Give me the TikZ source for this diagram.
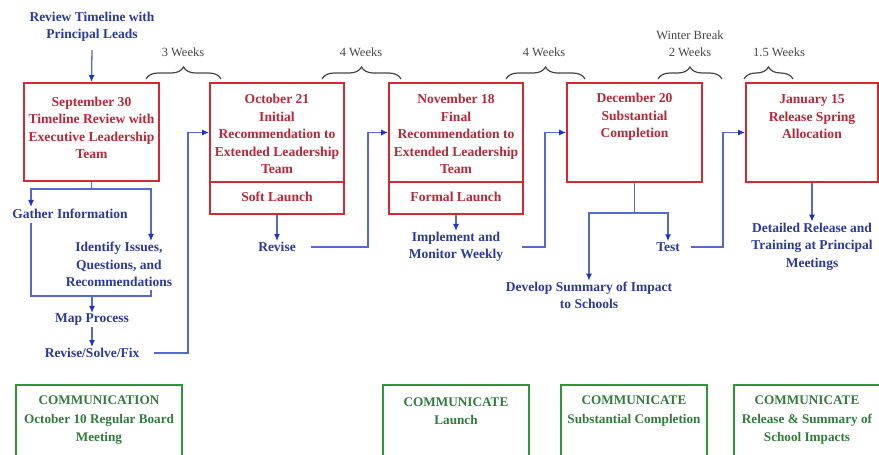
\documentclass[tikz,border=0pt]{standalone}
\usepackage{fontspec}
\setmainfont{Liberation Serif}
\usetikzlibrary{arrows.meta,decorations.pathreplacing}
\definecolor{boxred}{RGB}{218,38,48}
\definecolor{txtred}{RGB}{185,40,55}
\definecolor{txtblue}{RGB}{42,58,160}
\definecolor{lineblue}{RGB}{85,105,210}
\definecolor{arrblue}{RGB}{30,50,200}
\definecolor{boxgreen}{RGB}{45,150,55}
\definecolor{txtgreen}{RGB}{48,125,60}
\definecolor{txtgrey}{RGB}{70,70,70}
\tikzset{
  redbox/.style={draw=boxred, line width=1.8pt, inner sep=0pt, minimum width=#1},
  redbox/.default=134pt,
  greenbox/.style={draw=boxgreen, line width=1.8pt, inner sep=0pt},
  redtxt/.style={text=txtred, font=\bfseries\fontsize{13.6}{17.5}\selectfont, align=center, inner sep=0pt},
  bluetxt/.style={text=txtblue, font=\bfseries\fontsize{13.5}{17.5}\selectfont, align=center, inner sep=1pt},
  greentxt/.style={text=txtgreen, font=\bfseries\fontsize{13.2}{18.5}\selectfont, align=center, inner sep=0pt},
  greytxt/.style={text=txtgrey, font=\fontsize{12.5}{17}\selectfont, align=center, inner sep=0pt},
  plainline/.style={draw=lineblue, line width=1.3pt},
  conn/.style={plainline, -{Latex[length=7pt,width=6pt,color=arrblue]}},
  bracket/.style={draw=txtgrey, line width=1.2pt, decorate, decoration={brace, amplitude=12pt}},
}
\begin{document}
\begin{tikzpicture}[x=1pt, y=-1pt]
\useasboundingbox[fill=white] (0,0) rectangle (879,455);

% braces and durations
\draw[bracket] (146,79) -- (221,79);
\draw[bracket] (322,79) -- (401,79);
\draw[bracket] (506,79) -- (585,79);
\draw[bracket] (658,79) -- (722,79);
\draw[bracket] (744,79) -- (793,79);
\node[greytxt] (w1) at (183,52) {3 Weeks};
\node[greytxt] (w2) at (361,52) {4 Weeks};
\node[greytxt] (w3) at (544,52) {4 Weeks};
\node[greytxt] (w4) at (690,43.5) {Winter Break\\2 Weeks};
\node[greytxt] (w5) at (779,52) {1.5 Weeks};

% red milestone boxes
\node[redbox=135pt, minimum height=98pt] (b1) at (91.5,132) {};
\node[redbox, minimum height=99pt] (b2) at (277,132.5) {};
\node[redbox, minimum height=32pt] (b2s) at (277,198) {};
\node[redbox, minimum height=99pt] (b3) at (456,132.5) {};
\node[redbox, minimum height=32pt] (b3s) at (456,198) {};
\node[redbox=135pt, minimum height=99pt] (b4) at (634.5,132.5) {};
\node[redbox=132pt, minimum height=99pt] (b5) at (812,132.5) {};

\node[redtxt] (t1) at (91.5,128) {September 30\\Timeline Review with\\Executive Leadership\\Team};
\node[redtxt] (t2) at (277,134) {October 21\\Initial\\Recommendation to\\Extended Leadership\\Team};
\node[redtxt] (t2s) at (277,197) {Soft Launch};
\node[redtxt] (t3) at (456,134) {November 18\\Final\\Recommendation to\\Extended Leadership\\Team};
\node[redtxt] (t3s) at (456,197) {Formal Launch};
\node[redtxt] (t4) at (634.5,117) {December 20\\Substantial\\Completion};
\node[redtxt] (t5) at (812,117) {January 15\\Release Spring\\Allocation};

% blue steps
\node[bluetxt] (rvl) at (92,27) {Review Timeline with\\Principal Leads};
\node[bluetxt] (gat) at (70,214) {Gather Information};
\node[bluetxt] (iden) at (119,264.5) {Identify Issues,\\Questions, and\\Recommendations};
\node[bluetxt] (map) at (92,320) {Map Process};
\node[bluetxt] (rsf) at (92,353) {Revise/Solve/Fix};
\node[bluetxt] (rev) at (277,247) {Revise};
\node[bluetxt] (imp) at (456,247) {Implement and\\Monitor Weekly};
\node[bluetxt] (test) at (668,247) {Test};
\node[bluetxt] (dev) at (589,295.5) {Develop Summary of Impact\\to Schools};
\node[bluetxt] (det) at (812,246.5) {Detailed Release and\\Training at Principal\\Meetings};

% connectors
\draw[conn] (rvl.south) ++(0,7) -- (b1.north);

\coordinate (j1) at (91.5,189);
\coordinate (j1l) at (31,189);
\coordinate (j1r) at (151,189);
\draw[plainline] (b1.south) -- (j1);
\draw[conn] (j1) -- (j1l) -- ([yshift=1pt]j1l |- gat.north);
\draw[conn] (j1) -- (j1r) -- (j1r |- iden.north);
\coordinate (j2) at (92,296);
\coordinate (j2l) at (31,296);
\coordinate (j2r) at (151,296);
\draw[plainline] ([yshift=-3pt]j1l |- gat.south) -- (j2l) -- (j2r) -- ([yshift=-2pt]j2r |- iden.south);
\draw[conn] (j2) -- (map.north);
\draw[conn] (map.south) -- (rsf.north);

\coordinate (k1) at (188,353);
\draw[conn, shorten <=14pt] (rsf.east) -- (k1) |- (b2.west);
\draw[conn] (b2s.south) -- (rev.north);
\coordinate (k2) at (368,247);
\draw[conn, shorten <=14pt] (rev.east) -- (k2) |- (b3.west);
\draw[conn] (b3s.south) -- (imp.north);
\coordinate (k3) at (545,247);
\draw[conn, shorten <=18pt] (imp.east) -- (k3) |- (b4.west);

\coordinate (j3) at (634.5,213);
\coordinate (j3l) at (589,213);
\coordinate (j3r) at (668,213);
\draw[plainline] (b4.south) -- (j3);
\draw[conn] (j3) -- (j3r) -- (test.north);
\draw[conn] (j3) -- (j3l) -- (dev.north);
\coordinate (k4) at (723,247);
\draw[conn, shorten <=10pt] (test.east) -- (k4) |- (b5.west);
\draw[conn] (b5.south) -- (det.north);

% green communication boxes
\node[greenbox, minimum width=166pt, minimum height=100pt] (g1) at (99,435) {};
\node[greenbox, minimum width=146pt, minimum height=100pt] (g2) at (456,435) {};
\node[greenbox, minimum width=146pt, minimum height=100pt] (g3) at (634,435) {};
\node[greenbox, minimum width=170pt, minimum height=100pt] (g4) at (819,435) {};
\node[greentxt] (g1t) at (99,420.5) {COMMUNICATION\\October 10 Regular Board\\Meeting};
\node[greentxt] (g2t) at (456,411) {COMMUNICATE\\Launch};
\node[greentxt] (g3t) at (634,411) {COMMUNICATE\\Substantial Completion};
\node[greentxt] (g4t) at (807,420.5) {COMMUNICATE\\Release \& Summary of\\School Impacts};
\end{tikzpicture}
\end{document}
